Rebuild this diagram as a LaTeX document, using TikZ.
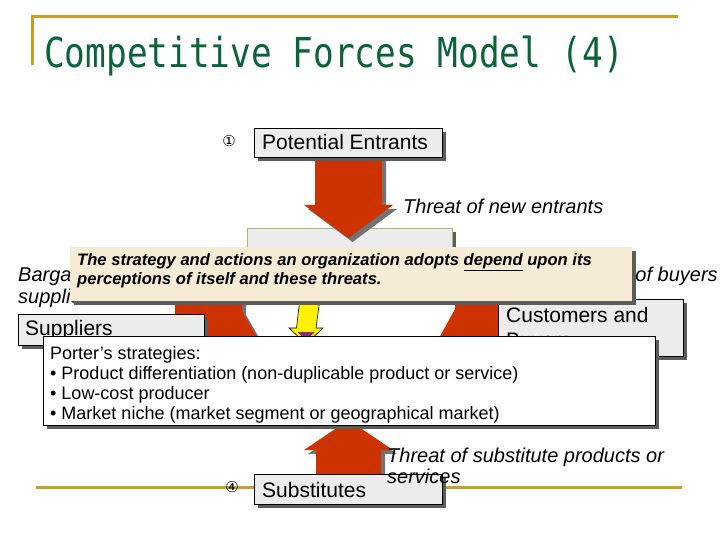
\documentclass[tikz,border=0pt]{standalone}
\usepackage{graphicx}
\usepackage{fontspec}
\setmainfont{Liberation Sans}
\newfontfamily\titlefont{DejaVu Sans Mono}
\newfontfamily\symfont{DejaVu Sans}
\usetikzlibrary{shadows}
\definecolor{gold}{RGB}{198,160,40}
\definecolor{titlegreen}{RGB}{10,100,55}
\definecolor{arrowred}{RGB}{204,51,0}
\definecolor{boxgray}{RGB}{236,236,236}
\definecolor{shadowgray}{RGB}{92,92,92}
\definecolor{arrowshadow}{RGB}{115,115,115}
\definecolor{parch}{RGB}{246,235,212}
\definecolor{firmedge}{RGB}{165,185,115}
\definecolor{purpletip}{RGB}{140,40,140}
\begin{document}
\begin{tikzpicture}[x=1pt,y=-1pt,
  goldline/.style={draw=gold, line width=3pt},
  box/.style={draw=black, line width=0.8pt, fill=boxgray, inner sep=0pt, anchor=north west,
    drop shadow={shadow xshift=4pt,shadow yshift=-4pt,fill=shadowgray,opacity=1}},
  boxtext/.style={anchor=base west, inner sep=0pt, font=\fontsize{21}{25}\selectfont},
  lbl/.style={anchor=base west, inner sep=0pt, font=\fontsize{20}{22}\selectfont\itshape},
  notetext/.style={anchor=base west, inner sep=0pt, font=\fontsize{16.6}{19}\selectfont\bfseries\itshape},
  portertext/.style={anchor=base west, inner sep=0pt, font=\fontsize{18}{20}\selectfont},
  redarrow/.style={fill=arrowred,
    drop shadow={shadow xshift=4pt,shadow yshift=-4pt,fill=arrowshadow,opacity=1}},
  numsym/.style={inner sep=0pt, font=\symfont\fontsize{15}{15}\selectfont}]
\fill[white] (0,0) rectangle (720,540);
\useasboundingbox (0,0) rectangle (720,540);

% frame lines
\coordinate (tl) at (32,17);
\coordinate (tr) at (678,17);
\coordinate (tb) at (32,65);
\draw[goldline] (tb) -- (tl) -- (tr);
\coordinate (bl) at (36,487);
\coordinate (br) at (682,487);
\draw[goldline] (bl) -- (br);

% title
\node[anchor=base west, inner sep=0pt, text=titlegreen, font=\titlefont\fontsize{34.4}{36}\selectfont]
  (title) at (44,68) {\scalebox{1}[1.2]{Competitive Forces Model (4)}};

% central box (mostly hidden by the note)
\coordinate (firmnw) at (247,228);
\coordinate (firmse) at (452,280);
\fill[shadowgray] ([shift={(4,4)}]firmnw) rectangle ([shift={(4,4)}]firmse);
\filldraw[fill=boxgray, draw=firmedge, line width=0.8pt] (firmnw) rectangle (firmse);

% red arrows
\fill[redarrow] (315,156) -- (382,156) -- (382,205) -- (393,205) -- (348.5,238)
  -- (304,205) -- (315,205) -- cycle;
\fill[redarrow] (316,478) -- (381,478) -- (381,450) -- (393,450) -- (348.5,420)
  -- (304,450) -- (316,450) -- cycle;
\fill[redarrow] (175,290) -- (242,290) -- (242,311) -- (270,360) -- (242,409)
  -- (175,409) -- cycle;
\fill[redarrow] (522,290) -- (455,290) -- (455,309) -- (427,360) -- (455,409)
  -- (522,409) -- cycle;

% bargaining labels
\node[lbl] (bsup1) at (18,281) {Bargaining power of};
\node[lbl] (bsup2) at (18,303) {suppliers};
\node[lbl, anchor=base east] (bbuy) at (718,281) {Bargaining power of buyers};

% suppliers & customers boxes
\node[box, minimum width=186, minimum height=31] (sup) at (18,314) {};
\node[boxtext] (supt) at (25,335.5) {Suppliers};
\node[box, minimum width=185, minimum height=57] (cust) at (498,299) {};
\node[boxtext] (custt1) at (506,322) {Customers and};
\node[boxtext] (custt2) at (506,347) {Buyers};

% yellow arrow
\filldraw[fill=yellow, draw=black, line width=0.6pt] (300,298) -- (320,298) -- (316,328)
  -- (323,328) -- (306,344) -- (289,328) -- (296.5,328) -- cycle;
\fill[purpletip] (297.5,332) -- (314.5,332) -- (306,341) -- cycle;

% note
\node[anchor=north west, fill=parch, inner sep=0pt, minimum width=562, minimum height=54,
  drop shadow={shadow xshift=4pt,shadow yshift=-4pt,fill=shadowgray,opacity=1}]
  (note) at (70,247) {};
\node[notetext] (note1) at (77,265.5) {The strategy and actions an organization adopts \underline{depend} upon its};
\node[notetext] (note2) at (77,284) {perceptions of itself and these threats.};

% Porter box
\node[box, fill=white, minimum width=612, minimum height=89] (porter) at (43,336) {};
\node[portertext] (p1) at (50,359.5) {Porter’s strategies:};
\node[portertext] (p2) at (50,379.5) {• Product differentiation (non-duplicable product or service)};
\node[portertext] (p3) at (50,399.5) {• Low-cost producer};
\node[portertext] (p4) at (50,419.5) {• Market niche (market segment or geographical market)};

% potential entrants & substitutes
\node[box, minimum width=188, minimum height=29] (pe) at (254,128) {};
\node[boxtext] (pet) at (262,150) {Potential Entrants};
\node[box, minimum width=188, minimum height=30] (sub) at (254,474) {};
\node[boxtext] (subt) at (262,497) {Substitutes};

% threat labels
\node[lbl] (tnew) at (403,214) {Threat of new entrants};
\node[lbl] (tsub1) at (387,462) {Threat of substitute products or};
\node[lbl] (tsub2) at (387,483) {services};

% numbers
\node[numsym] (n1) at (229,141) {①};
\node[numsym] (n4) at (232,487) {④};
\end{tikzpicture}
\end{document}
